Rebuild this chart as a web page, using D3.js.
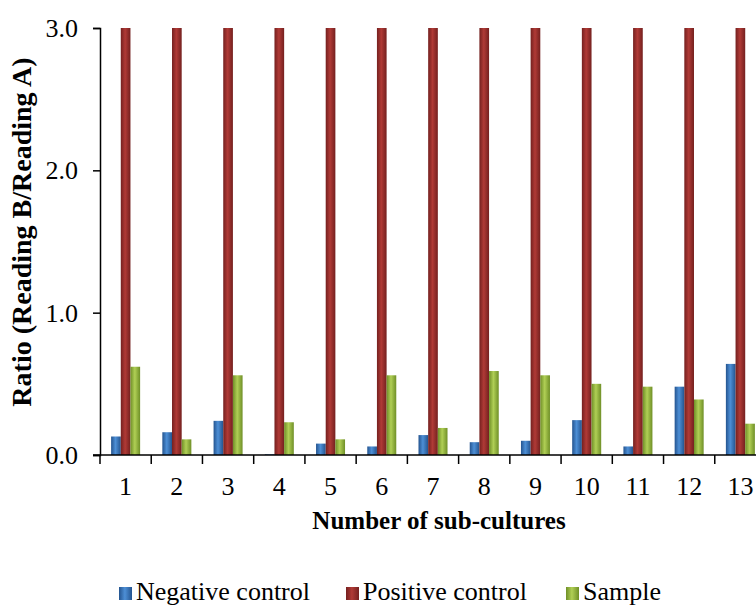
<!DOCTYPE html>
<html lang="en">
<head>
<meta charset="UTF-8">
<title>Ratio of sub-cultures</title>
<script src="https://d3js.org/d3.v7.min.js"></script>
<style>
  body { margin: 0; background: #fff; }
  svg text { font-family: "Liberation Serif", "DejaVu Serif", serif !important; fill: #000; }
</style>
</head>
<body>
<svg width="756" height="606"></svg>
<script>
// data
const categories = ["1","2","3","4","5","6","7","8","9","10","11","12","13"];
const negative = [0.13, 0.16, 0.24, 0.005, 0.08, 0.06, 0.14, 0.09, 0.10, 0.245, 0.06, 0.48, 0.64];
const positive = [3.5, 3.5, 3.5, 3.5, 3.5, 3.5, 3.5, 3.5, 3.5, 3.5, 3.5, 3.5, 3.5]; // off the top of the axis
const sample   = [0.62, 0.11, 0.56, 0.23, 0.11, 0.56, 0.19, 0.59, 0.56, 0.50, 0.48, 0.39, 0.22];
const seriesNames = ["Negative control", "Positive control", "Sample"];
const yTicks = [0, 1, 2, 3];

const colors = {
  "Negative control": ["#24548f", "#4d8fd6"],
  "Positive control": ["#74201f", "#b03a36"],
  "Sample":           ["#6f8f27", "#b0cf55"]
};

const svg = d3.select("svg");
const plot = { left: 100, right: 766, top: 28, bottom: 455 };

const x = d3.scaleBand().domain(categories).range([plot.left, plot.right]);
const xs = d3.scaleBand().domain(seriesNames)
  .range([x.bandwidth() / 2 - 14.5, x.bandwidth() / 2 + 14.5]);
const y = d3.scaleLinear().domain([0, 3]).range([plot.bottom, plot.top]);

// gradients for the shaded bars
const defs = svg.append("defs");
seriesNames.forEach((s, i) => {
  const g = defs.append("linearGradient").attr("id", "g" + i)
    .attr("x1", "0").attr("x2", "1").attr("y1", "0").attr("y2", "0");
  g.append("stop").attr("offset", "0%").attr("stop-color", colors[s][0]);
  g.append("stop").attr("offset", "45%").attr("stop-color", colors[s][1]);
  g.append("stop").attr("offset", "100%").attr("stop-color", colors[s][0]);
});
defs.append("clipPath").attr("id", "plotclip")
  .append("rect").attr("x", plot.left).attr("y", plot.top)
  .attr("width", plot.right - plot.left).attr("height", plot.bottom - plot.top);

const rows = categories.map((c, i) => ({
  cat: c,
  vals: [negative[i], positive[i], sample[i]]
}));

const groups = svg.append("g").attr("clip-path", "url(#plotclip)")
  .selectAll("g").data(rows).join("g")
  .attr("transform", d => `translate(${x(d.cat)},0)`);

groups.selectAll("rect")
  .data(d => d.vals.map((v, i) => ({ s: seriesNames[i], i, v })))
  .join("rect")
  .attr("x", d => xs(d.s))
  .attr("width", xs.bandwidth())
  .attr("y", d => y(d.v))
  .attr("height", d => y(0) - y(d.v))
  .attr("fill", d => `url(#g${d.i})`);

// y axis
const yAxis = svg.append("g").attr("transform", `translate(${plot.left},0)`)
  .call(d3.axisLeft(y).tickValues(yTicks).tickFormat(d3.format(".1f")).tickSizeOuter(0).tickSize(7).tickPadding(15));
yAxis.attr("font-family", null).attr("font-size", null);
yAxis.select(".domain").attr("stroke", "#000").attr("stroke-width", 1.5);
yAxis.selectAll("line").attr("stroke", "#000").attr("stroke-width", 1.5);
yAxis.selectAll("text").style("font-size", "26px").attr("dy", "0.33em");

// x axis with ticks at category boundaries
const xAxis = svg.append("g").attr("transform", `translate(0,${plot.bottom})`);
xAxis.append("line").attr("x1", plot.left - 7).attr("x2", plot.right).attr("stroke", "#000").attr("stroke-width", 1.5);
xAxis.selectAll("line.tk").data(categories).join("line").attr("class", "tk")
  .attr("x1", d => x(d)).attr("x2", d => x(d)).attr("y1", 0).attr("y2", 9)
  .attr("stroke", "#000").attr("stroke-width", 1.5);
xAxis.selectAll("text").data(categories).join("text")
  .attr("x", d => x(d) + x.bandwidth() / 2).attr("y", 40)
  .attr("text-anchor", "middle").style("font-size", "26px").text(d => d);

// axis titles
svg.append("text").attr("x", 439).attr("y", 529).attr("text-anchor", "middle")
  .style("font-size", "25px").style("font-weight", "bold").text("Number of sub-cultures");
svg.append("text").attr("transform", "translate(31,232) rotate(-90)").attr("text-anchor", "middle")
  .style("font-size", "28px").style("font-weight", "bold").text("Ratio (Reading B/Reading A)");

// legend
const legendX = [119, 346, 566];
const legend = svg.append("g").selectAll("g").data(seriesNames).join("g")
  .attr("transform", (d, i) => `translate(${legendX[i]},594)`);
legend.append("rect").attr("x", 0).attr("y", -7).attr("width", 13).attr("height", 13)
  .attr("fill", (d, i) => `url(#g${i})`);
legend.append("text").attr("x", 17).attr("y", 6).style("font-size", "26px").text(d => d);
</script>
</body>
</html>
